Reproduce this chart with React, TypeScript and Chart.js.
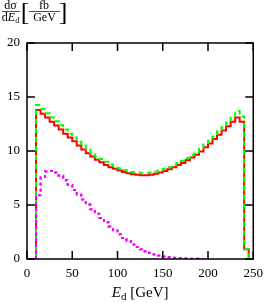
import React, { useEffect, useRef } from "react";
import { Chart, registerables } from "chart.js";

Chart.register(...registerables);

// Lower bin edges (GeV), bin width 5 GeV
const binLow = [
  10, 15, 20, 25, 30, 35, 40, 45, 50, 55, 60, 65, 70, 75, 80, 85, 90, 95, 100,
  105, 110, 115, 120, 125, 130, 135, 140, 145, 150, 155, 160, 165, 170, 175,
  180, 185, 190, 195, 200, 205, 210, 215, 220, 225, 230, 235, 240,
];
const binWidth = 5;

const redValues = [
  13.8, 13.45, 13.1, 12.7, 12.35, 12.0, 11.6, 11.25, 10.9, 10.5, 10.15, 9.8,
  9.5, 9.2, 8.95, 8.7, 8.5, 8.35, 8.2, 8.05, 7.95, 7.85, 7.8, 7.75, 7.75, 7.8,
  7.9, 8.0, 8.15, 8.3, 8.5, 8.7, 8.9, 9.15, 9.4, 9.65, 9.95, 10.35, 10.7, 11.1,
  11.5, 11.9, 12.3, 12.7, 13.1, 12.7, 0.9,
];

const greenValues = [
  14.25, 13.9, 13.5, 13.1, 12.75, 12.4, 12.0, 11.6, 11.25, 10.85, 10.5, 10.15,
  9.8, 9.5, 9.25, 9.0, 8.75, 8.6, 8.4, 8.25, 8.15, 8.05, 8.0, 7.95, 7.95, 8.0,
  8.1, 8.2, 8.35, 8.5, 8.7, 8.9, 9.1, 9.35, 9.65, 9.9, 10.2, 10.6, 10.95,
  11.35, 11.8, 12.2, 12.65, 13.1, 13.7, 13.2, 0.9,
];

const purpleValues = [
  5.9, 7.6, 8.1, 8.15, 8.0, 7.7, 7.3, 6.85, 6.4, 5.95, 5.5, 5.05, 4.6, 4.2,
  3.8, 3.4, 3.0, 2.65, 2.3, 1.95, 1.65, 1.35, 1.1, 0.9, 0.7, 0.55, 0.42, 0.32,
  0.24, 0.17, 0.12, 0.08, 0.05, 0.04, 0.03, 0.02, 0.01,
];

const xTicks = [0, 50, 100, 150, 200, 250];
const yTicks = [0, 5, 10, 15, 20];

const FONT = '"Liberation Serif", "DejaVu Serif", serif';

function histPoints(vals: number[]) {
  const pts: { x: number; y: number }[] = [{ x: binLow[0], y: 0 }];
  for (let i = 0; i < vals.length; i++) pts.push({ x: binLow[i], y: vals[i] });
  pts.push({ x: binLow[vals.length - 1] + binWidth, y: 0 });
  return pts;
}

const framePlugin = {
  id: "frame",
  afterDatasetsDraw(chart: any) {
    const { ctx, chartArea: a } = chart;
    const xs = chart.scales.x;
    const ys = chart.scales.y;
    const tl = 8;
    ctx.save();
    ctx.strokeStyle = "#000";
    ctx.lineWidth = 1.5;
    ctx.beginPath();
    for (const v of xTicks) {
      const px = xs.getPixelForValue(v);
      ctx.moveTo(px, a.bottom);
      ctx.lineTo(px, a.bottom - tl);
      ctx.moveTo(px, a.top);
      ctx.lineTo(px, a.top + tl);
    }
    for (const v of yTicks) {
      const py = ys.getPixelForValue(v);
      ctx.moveTo(a.left, py);
      ctx.lineTo(a.left + tl, py);
      ctx.moveTo(a.right, py);
      ctx.lineTo(a.right - tl, py);
    }
    ctx.stroke();
    ctx.strokeRect(a.left, a.top, a.right - a.left, a.bottom - a.top);

    // x-axis title: E_d [GeV]
    ctx.fillStyle = "#000";
    ctx.textBaseline = "alphabetic";
    ctx.textAlign = "left";
    const f1 = `italic 15px ${FONT}`;
    const f2 = `11px ${FONT}`;
    const f3 = `15px ${FONT}`;
    ctx.font = f1;
    const wE = ctx.measureText("E").width;
    ctx.font = f2;
    const wd = ctx.measureText("d").width;
    ctx.font = f3;
    const wG = ctx.measureText(" [GeV]").width;
    const total = wE + wd + wG;
    let cx = (a.left + a.right) / 2 - total / 2;
    const by = 297;
    ctx.font = f1;
    ctx.fillText("E", cx, by);
    cx += wE;
    ctx.font = f2;
    ctx.fillText("d", cx, by + 3);
    cx += wd;
    ctx.font = f3;
    ctx.fillText(" [GeV]", cx, by);

    // y-axis label: dσ/dE_d [fb/GeV]
    ctx.textAlign = "center";
    const fs = 12;
    ctx.font = `${fs}px ${FONT}`;
    ctx.fillText("dσ", 10.5, 9);
    ctx.textAlign = "left";
    const wd2 = ctx.measureText("d").width;
    ctx.font = `italic ${fs}px ${FONT}`;
    const wE2 = ctx.measureText("E").width;
    ctx.font = `8px ${FONT}`;
    const wsub = ctx.measureText("d").width;
    let dx = 10.5 - (wd2 + wE2 + wsub) / 2;
    ctx.font = `${fs}px ${FONT}`;
    ctx.fillText("d", dx, 20.5);
    dx += wd2;
    ctx.font = `italic ${fs}px ${FONT}`;
    ctx.fillText("E", dx, 20.5);
    dx += wE2;
    ctx.font = `8px ${FONT}`;
    ctx.fillText("d", dx, 22.5);
    ctx.lineWidth = 0.7;
    ctx.beginPath();
    ctx.moveTo(2, 11.5);
    ctx.lineTo(20, 11.5);
    ctx.moveTo(29, 11.5);
    ctx.lineTo(60, 11.5);
    ctx.stroke();
    ctx.textAlign = "center";
    ctx.font = `${fs}px ${FONT}`;
    ctx.fillText("fb", 44, 9);
    ctx.fillText("GeV", 44.5, 20.5);
    ctx.font = `26px ${FONT}`;
    ctx.fillText("[", 25, 20);
    ctx.fillText("]", 63, 20);
    ctx.restore();
  },
};

export default function App() {
  const ref = useRef<HTMLCanvasElement | null>(null);
  useEffect(() => {
    if (!ref.current) return;
    const common = { pointRadius: 0, stepped: true, fill: false, tension: 0 };
    const chart = new Chart(ref.current, {
      type: "line",
      data: {
        datasets: [
          {
            ...common,
            label: "magenta",
            data: histPoints(purpleValues),
            borderColor: "#ff00ff",
            borderWidth: 2,
            borderDash: [3, 3],
          },
          {
            ...common,
            label: "violet",
            data: histPoints(purpleValues),
            borderColor: "#9400d3",
            borderWidth: 2,
            borderDash: [2, 4],
          },
          {
            ...common,
            label: "green",
            data: histPoints(greenValues),
            borderColor: "#00ff00",
            borderWidth: 2,
            borderDash: [5, 4],
          },
          {
            ...common,
            label: "red",
            data: histPoints(redValues),
            borderColor: "#ff0000",
            borderWidth: 2,
          },
        ],
      } as any,
      options: {
        animation: false,
        responsive: false,
        layout: { padding: { top: 43, right: 13, left: 0, bottom: 0 } },
        plugins: { legend: { display: false }, tooltip: { enabled: false } },
        scales: {
          x: {
            type: "linear",
            min: 0,
            max: 250,
            grid: { display: false, drawTicks: false },
            border: { display: false },
            ticks: {
              stepSize: 50,
              color: "#000",
              padding: 7,
              maxRotation: 0,
              autoSkip: false,
              font: { family: FONT, size: 13 },
            },
            afterFit: (s: any) => {
              s.height = 44;
            },
          },
          y: {
            type: "linear",
            min: 0,
            max: 20,
            grid: { display: false, drawTicks: false },
            border: { display: false },
            ticks: {
              stepSize: 5,
              color: "#000",
              padding: 7,
              autoSkip: false,
              font: { family: FONT, size: 13 },
            },
            afterFit: (s: any) => {
              s.width = 27;
            },
          },
        },
      } as any,
      plugins: [framePlugin],
    });
    return () => chart.destroy();
  }, []);
  return (
    <div style={{ position: "fixed", left: 0, top: 0, width: 270, height: 303, background: "#fff" }}>
      <canvas ref={ref} width={270} height={303} style={{ display: "block" }} />
    </div>
  );
}
